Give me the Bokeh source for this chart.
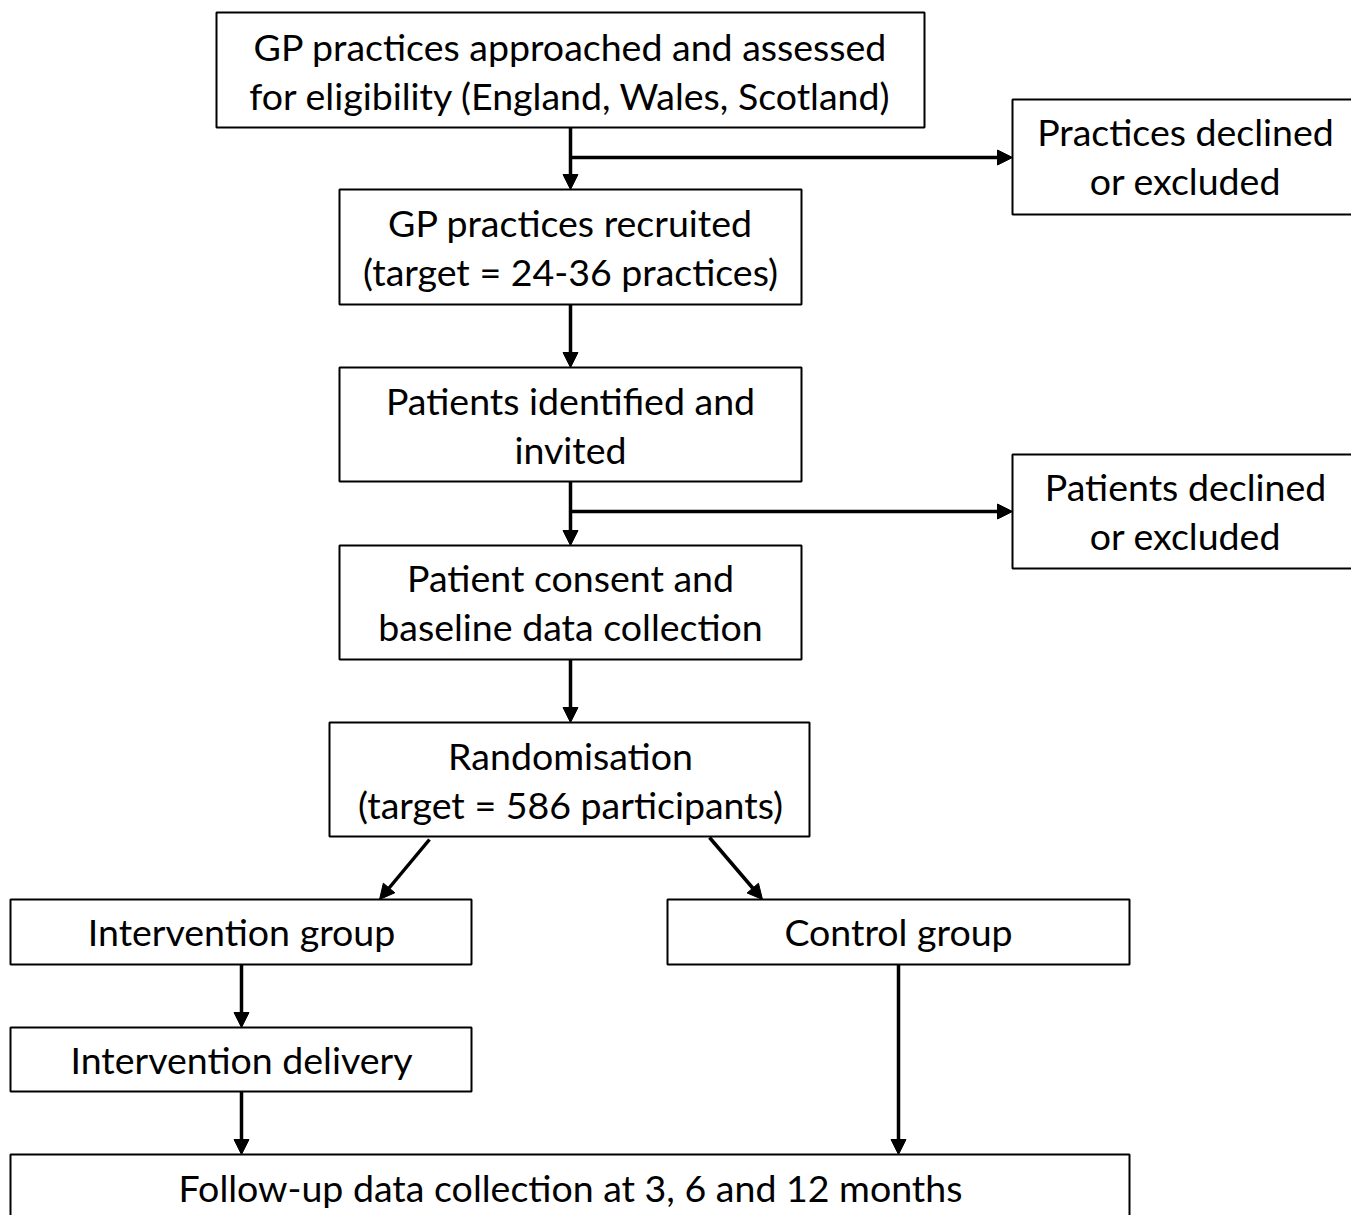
from bokeh.plotting import figure
from bokeh.models import Range1d, Arrow, NormalHead, ColumnDataSource
from bokeh.core.properties import value
from bokeh.embed import file_html
from bokeh.resources import INLINE

# Boxes (reference pixel coordinates)
box_left   = [216, 1012, 339, 339, 1012, 339, 329, 10, 667, 10, 10]
box_right  = [924, 1360, 801, 801, 1360, 801, 809, 471, 1129, 471, 1129]
box_top    = [12, 99, 189, 367, 454, 545, 722, 899, 899, 1027, 1154]
box_bottom = [127, 214, 304, 481, 568, 659, 836, 964, 964, 1091, 1230]

# Text lines
text_x = [570, 570, 1185, 1185, 570, 570, 570, 570, 1185, 1185, 570, 570, 570, 570, 241, 898, 241, 570]
text_y = [46, 95, 131, 180, 222, 271, 400, 449, 486, 535, 577, 626, 755, 804, 931, 931, 1059, 1187]
text_lines = [
    "GP practices approached and assessed",
    "for eligibility (England, Wales, Scotland)",
    "Practices declined",
    "or excluded",
    "GP practices recruited",
    "(target = 24-36 practices)",
    "Patients identified and",
    "invited",
    "Patients declined",
    "or excluded",
    "Patient consent and",
    "baseline data collection",
    "Randomisation",
    "(target = 586 participants)",
    "Intervention group",
    "Control group",
    "Intervention delivery",
    "Follow-up data collection at 3, 6 and 12 months",
]

# Arrows (start -> end)
arrow_x0 = [570, 570, 570, 570, 570, 570, 429, 709, 241, 241, 898]
arrow_y0 = [127, 157, 304, 481, 511, 659, 839, 837, 964, 1091, 964]
arrow_x1 = [570, 1012, 570, 570, 1012, 570, 379, 762, 241, 241, 898]
arrow_y1 = [189, 157, 367, 545, 511, 722, 899, 899, 1027, 1154, 1154]

W, H = 1351, 1215
p = figure(width=W, height=H, output_backend="svg", toolbar_location=None,
           x_range=Range1d(0, W), y_range=Range1d(H, 0),
           min_border=0, min_border_left=0, min_border_right=0,
           min_border_top=0, min_border_bottom=0)
p.axis.visible = False
p.grid.visible = False
p.outline_line_color = None
p.background_fill_color = "white"
p.border_fill_color = "white"

boxes = ColumnDataSource(dict(left=box_left, right=box_right, top=box_top, bottom=box_bottom))
p.quad(left="left", right="right", top="top", bottom="bottom", source=boxes,
       fill_color="white", line_color="black", line_width=2)

texts = ColumnDataSource(dict(x=text_x, y=text_y, t=text_lines))
p.text(x="x", y="y", text="t", source=texts, text_align="center", text_baseline="middle",
       text_font=value("Lato"), text_font_size="37.5px", text_color="black")

for x0, y0, x1, y1 in zip(arrow_x0, arrow_y0, arrow_x1, arrow_y1):
    p.add_layout(Arrow(end=NormalHead(size=15, fill_color="black", line_color="black", line_width=1),
                       x_start=x0, y_start=y0, x_end=x1, y_end=y1,
                       line_color="black", line_width=3.5))

open("out.html", "w").write(file_html(p, INLINE))
